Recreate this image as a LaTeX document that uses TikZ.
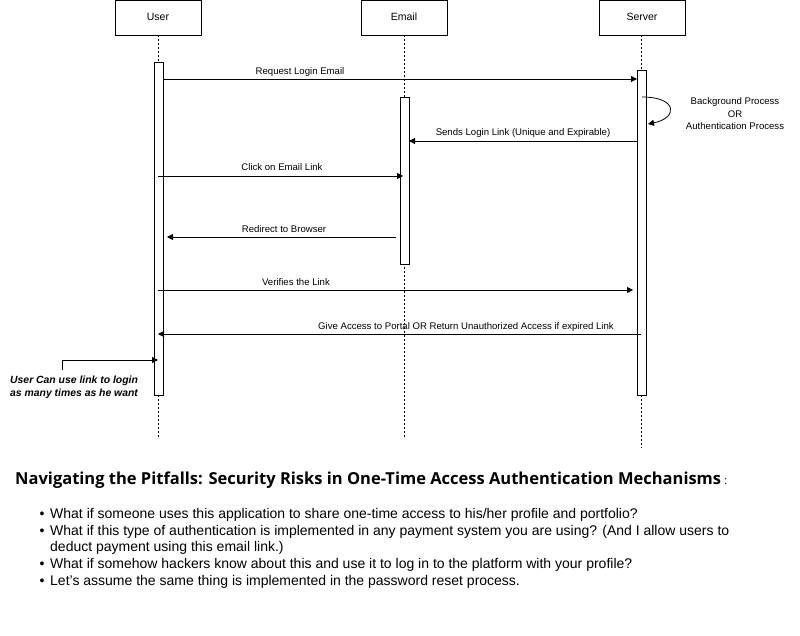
\documentclass[tikz,border=0pt]{standalone}
\usepackage{fontspec}
\setmainfont{Liberation Sans}
\newfontfamily\titlefont{Open Sans}
\usetikzlibrary{arrows.meta}
\tikzset{
  actor/.style={draw, line width=0.8pt, minimum width=86pt, minimum height=35pt, inner sep=0pt, text height=7.5pt, text depth=2pt, font=\fontsize{10.5}{12}\selectfont},
  bar/.style={draw, line width=0.8pt, fill=white},
  lifeline/.style={line width=0.8pt, dash pattern=on 2pt off 2pt},
  msg/.style={line width=0.8pt, -{Triangle[length=6pt,width=6pt]}},
  lbl/.style={font=\fontsize{9.6}{11}\selectfont, inner sep=0pt, anchor=base},
  bul/.style={font=\fontsize{14}{16}\selectfont, inner sep=0pt, anchor=base west},
  dotb/.style={font=\fontsize{14}{16}\selectfont, inner sep=0pt, anchor=base}
}
\begin{document}
\begin{tikzpicture}[x=1pt,y=-1pt]
\useasboundingbox (0,0) rectangle (800,636);
% actors
\node[actor] (user) at (158,17.5) {User};
\node[actor] (email) at (404,17.5) {Email};
\node[actor] (server) at (642,17.5) {Server};
% lifeline ends
\coordinate (ue) at (158,438);
\coordinate (ee) at (404.5,438);
\coordinate (se) at (641.5,448);
\draw[lifeline] (user.south) -- (ue);
\draw[lifeline] (email.south -| ee) -- (ee);
\draw[lifeline] (server.south -| se) -- (se);
% activation bars
\draw[bar] (154,62) rectangle (163,395);
\draw[bar] (400,97) rectangle (409,264);
\draw[bar] (637,70) rectangle (646,395);
% message endpoints
\coordinate (m1a) at (163,79); \coordinate (m1b) at (637,79);
\coordinate (m2a) at (637,141); \coordinate (m2b) at (409,141);
\coordinate (m3a) at (158,176); \coordinate (m3b) at (403,176);
\coordinate (m4a) at (396,237); \coordinate (m4b) at (167,237);
\coordinate (m5a) at (158,290); \coordinate (m5b) at (633,290);
\coordinate (m6a) at (641,334); \coordinate (m6b) at (158,334);
\draw[msg] (m1a) -- (m1b);
\draw[msg] (m2a) -- (m2b);
\draw[msg] (m3a) -- (m3b);
\draw[msg] (m4a) -- (m4b);
\draw[msg] (m5a) -- (m5b);
\draw[msg] (m6a) -- (m6b);
\node[lbl] (l1) at (300,74.5) {Request Login Email};
\node[lbl] (l2) at (523,135.5) {Sends Login Link (Unique and Expirable)};
\node[lbl] (l3) at (282,171) {Click on Email Link};
\node[lbl] (l4) at (284,232.5) {Redirect to Browser};
\node[lbl] (l5) at (296,285.5) {Verifies the Link};
\node[lbl] (l6) at (466,329.5) {Give Access to Portal OR Return Unauthorized Access if expired Link};
% self call
\coordinate (sa) at (642,97); \coordinate (sb) at (648,124);
\draw[msg] (sa) .. controls (678,97) and (678,118) .. (sb);
\node[font=\fontsize{9.6}{12.5}\selectfont, align=center, inner sep=0pt] (bg) at (735,114) {Background Process\\OR\\Authentication Process};
% note
\coordinate (n0) at (62,370); \coordinate (n1) at (62,360); \coordinate (n2) at (158,360);
\draw[msg] (n0) -- (n1) -- (n2);
\node[font=\fontsize{10.4}{13}\selectfont\bfseries\itshape, align=left, inner sep=0pt, anchor=north west] (note) at (10,375.5) {User Can use link to login\\as many times as he want};
% title
\node[inner sep=0pt, anchor=base west, font=\titlefont\bfseries\fontsize{16.5}{20}\selectfont] (title) at (15,484) {Navigating the Pitfalls: Security Risks in One-Time Access Authentication Mechanisms};
\node[inner sep=0pt, anchor=base west, font=\titlefont\fontsize{11}{13}\selectfont] (colon) at (title.base east) {\ :};
% bullets
\foreach \y in {518,535,568,585} { \node[dotb] at (42,\y) {•}; }
\node[bul] (b1) at (50,518) {What if someone uses this application to share one-time access to his/her profile and portfolio?};
\node[bul] (b2) at (50,535) {What if this type of authentication is implemented in any payment system you are using? (And I allow users to};
\node[bul] (b2b) at (50,551.5) {deduct payment using this email link.)};
\node[bul] (b3) at (50,568) {What if somehow hackers know about this and use it to log in to the platform with your profile?};
\node[bul] (b4) at (50,585) {Let's assume the same thing is implemented in the password reset process.};
\end{tikzpicture}
\end{document}
